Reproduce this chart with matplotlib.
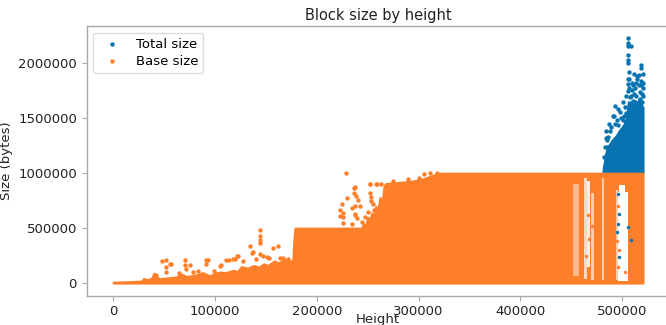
import matplotlib
matplotlib.use("Agg")
import matplotlib.pyplot as plt
import numpy as np

# upper edge of the dense "base size" cloud (height, bytes)
base_env_h = [0, 15000, 28000, 30000, 33000, 38000, 40000, 45000, 55000, 62000,
              66000, 72000, 80000, 88000, 95000, 100000, 105000, 110000, 118000, 122000,
              126000, 132000, 138000, 143000, 148000, 152000, 158000, 163000, 168000, 173000,
              176500, 177500, 178500, 244000, 246000, 248000, 250000, 252000, 254000, 256000,
              258000, 260000, 262000, 264000, 266000, 267500, 285000, 295000, 305000, 315000,
              322000, 520400]
base_env_s = [8000, 12000, 18000, 42000, 30000, 45000, 90000, 40000, 48000, 55000,
              85000, 60000, 70000, 95000, 65000, 90000, 100000, 95000, 115000, 105000,
              150000, 135000, 160000, 145000, 175000, 160000, 200000, 185000, 215000, 195000,
              210000, 400000, 500000, 500000, 540000, 520000, 600000, 570000, 640000, 600000,
              700000, 650000, 780000, 720000, 880000, 905000, 920000, 930000, 950000, 985000,
              1000000, 1000000]

# scattered base size blocks above the cloud
base_pts_h = [47600, 52000, 52000, 56200, 52000, 56900, 70700, 71000, 72000, 75000,
              91400, 93000, 91400, 83200, 104500, 105500, 111000, 114000, 117700, 119300,
              121600, 122600, 134800, 137100, 136700, 144000, 144000, 144000, 144000, 144000,
              150600, 157100, 162000, 163700, 171900, 42000, 65000, 78000, 99000, 128000,
              140000, 147000, 153000, 167000,
              228500, 236700, 237000, 238300, 229500, 225200, 226100, 226100, 226100, 237700,
              242600, 252500, 258100, 263300, 252500, 253000, 253200, 261600, 256400, 244300,
              237700, 240300, 234400, 238000, 239000, 261900, 235000, 250000, 247000, 255000,
              237400, 222600, 223200, 252200, 259000,
              311600, 305000, 318000, 300000, 290000, 275000]
base_pts_s = [198000, 207000, 150000, 170000, 100000, 177000, 207000, 165000, 130000, 161000,
              207000, 207000, 175000, 107000, 155000, 161000, 207000, 210000, 222000, 216000,
              243000, 246000, 337000, 282000, 273000, 480000, 425000, 395000, 364000, 268000,
              237000, 322000, 337000, 231000, 222000, 70000, 90000, 100000, 110000, 200000,
              220000, 250000, 230000, 230000,
              1000000, 869000, 823000, 792000, 778000, 723000, 637000, 601000, 550000, 699000,
              699000, 899000, 905000, 899000, 823000, 783000, 747000, 708000, 668000, 556000,
              617000, 753000, 541000, 632000, 596000, 541000, 680000, 650000, 600000, 720000,
              874000, 662000, 607000, 905000, 905000,
              1000000, 990000, 1000000, 960000, 945000, 930000]

# upper edge of the dense "total size" cloud (segwit era)
total_env_h = [481000, 481500, 482500, 483500, 485000, 486500, 488000, 490000, 492000, 494000,
               496000, 498000, 500000, 502000, 504000, 505000, 506000, 507500, 509000, 511000,
               513000, 515000, 517000, 519000, 520400]
total_env_s = [1000000, 1060000, 1100000, 1170000, 1220000, 1250000, 1270000, 1300000, 1320000, 1340000,
               1370000, 1400000, 1420000, 1450000, 1500000, 1560000, 1650000, 1580000, 1640000, 1620000,
               1660000, 1640000, 1680000, 1620000, 1600000]

total_pts_h = [505600, 505600, 505900, 508900, 505600, 505600, 505600, 518700, 518700, 516500,
               518700, 518700, 505600, 505600, 513800, 493100, 490800, 492000, 494500, 484200,
               484200, 484800, 510000, 512000, 507000, 515000, 509000, 499000, 495800, 502000,
               486000, 488000, 517000, 520000, 520000, 514500, 510500, 506200,
               504000, 506000, 507500, 509500, 511000, 512500, 514000, 516000, 517500, 519500,
               520300, 520300, 511500, 508000, 503000, 501000, 498000, 496000, 492500, 489000,
               487000, 485500, 483000, 482500, 500500, 503500, 506500, 513000, 515500, 519000]
total_pts_s = [2235000, 2186000, 2156000, 2156000, 2074000, 2028000, 2000000, 1989000, 1962000, 1892000,
               1840000, 1800000, 1862000, 1816000, 1822000, 1609000, 1518000, 1520000, 1488000, 1384000,
               1324000, 1239000, 1760000, 1720000, 1780000, 1860000, 1700000, 1506000, 1436000, 1520000,
               1330000, 1380000, 1740000, 1780000, 1700000, 1885000, 1800000, 1860000,
               1700000, 1750000, 1690000, 1820000, 1660000, 1780000, 1700000, 1800000, 1680000, 1720000,
               1900000, 1820000, 1900000, 1640000, 1600000, 1650000, 1560000, 1580000, 1450000, 1420000,
               1450000, 1300000, 1240000, 1150000, 1480000, 1550000, 1920000, 1600000, 1640000, 1650000]

# size ranges with (almost) no blocks in the late heights
gap_h0 = [451500, 462500, 465000, 469000, 480300, 494000, 496000, 497300]
gap_h1 = [458000, 465000, 468500, 472500, 481800, 496000, 506000, 502300]
gap_s0 = [60000, 40000, 150000, 30000, 30000, 30000, 20000, 830000]
gap_s1 = [900000, 960000, 930000, 820000, 960000, 850000, 830000, 890000]
gap_a = [0.45, 0.7, 0.85, 0.6, 0.6, 0.6, 1.0, 1.0]

# blocks inside the gap columns
in_gap_total_h = [495800, 496400, 495800, 495100, 505600, 508200, 496400]
in_gap_total_s = [814000, 632000, 541000, 465000, 510000, 389000, 237000]
in_gap_base_h = [495500, 495000, 496000, 503000, 497000, 466000, 467500, 464000, 470500]
in_gap_base_s = [700000, 380000, 150000, 100000, 300000, 620000, 400000, 250000, 520000]

xticks = [0, 100000, 200000, 300000, 400000, 500000]
yticks = [0, 500000, 1000000, 1500000, 2000000]

blue = '#0773b0'
orange = '#fe7f2a'
grey = '#a8a8a8'

plt.rcParams['font.family'] = 'DejaVu Sans'
fig = plt.figure(figsize=(6.66, 3.25), dpi=100)
ax = fig.add_axes([0.1302, 0.0902, 0.875, 0.8298])

# total size
ax.fill_between(total_env_h, 1000000, total_env_s, color=blue, lw=1.5, zorder=1)
ax.scatter(total_pts_h, total_pts_s, s=10, color=blue, lw=0, zorder=2, label='Total size')

# base size
ax.fill_between(base_env_h, 0, base_env_s, color=orange, lw=1.5, zorder=3)
ax.scatter(base_pts_h, base_pts_s, s=10, color=orange, lw=0, zorder=4, label='Base size')

for h0, h1, s0, s1, a in zip(gap_h0, gap_h1, gap_s0, gap_s1, gap_a):
    ax.bar(h0, s1 - s0, width=h1 - h0, bottom=s0, align='edge', color='white',
           alpha=a, lw=0, zorder=5)
ax.scatter(in_gap_total_h, in_gap_total_s, s=6, color=blue, lw=0, zorder=6)
ax.scatter(in_gap_base_h, in_gap_base_s, s=6, color=orange, lw=0, zorder=6)

ax.set_xlim(-26000, 546400)
ax.set_ylim(-115000, 2340000)
ax.set_xticks(xticks)
ax.set_xticklabels([str(t) for t in xticks])
ax.set_yticks(yticks)
ax.set_yticklabels([str(t) for t in yticks])
ax.tick_params(labelsize=9.5, color=grey, length=3.5, width=0.8, labelcolor='#222222')
for sp in ax.spines.values():
    sp.set_color(grey)
    sp.set_linewidth(1.0)

ax.set_title('Block size by height', fontsize=10.5, color='#222222', pad=4)
ax.set_xlabel('Height', fontsize=9.5, color='#222222', labelpad=-4)
ax.set_ylabel('Size (bytes)', fontsize=9.5, color='#222222')
ax.legend(loc='upper left', fontsize=9.5, handletextpad=0.8, borderpad=0.4,
          labelspacing=0.3, edgecolor='#dddddd', framealpha=1, markerscale=1)

fig.savefig('out.png', dpi=100)
